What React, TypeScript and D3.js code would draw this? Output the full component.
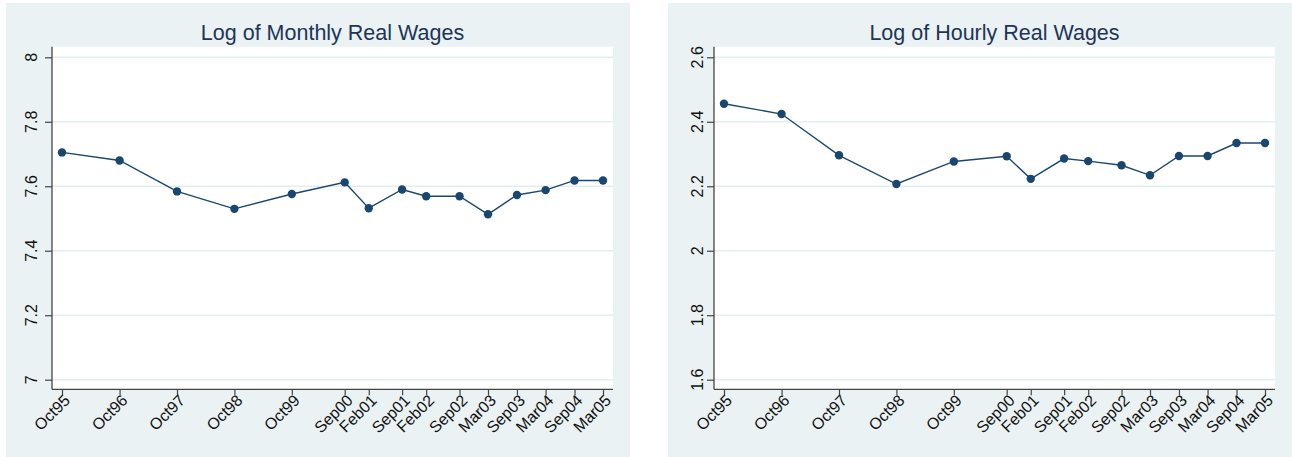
import { useEffect, useRef } from 'react';
import * as d3 from 'd3';

const surveyLabels = ['Oct95', 'Oct96', 'Oct97', 'Oct98', 'Oct99', 'Sep00', 'Feb01', 'Sep01', 'Feb02', 'Sep02', 'Mar03', 'Sep03', 'Mar04', 'Sep04', 'Mar05'];
const monthlyWages = [7.705, 7.68, 7.584, 7.53, 7.576, 7.612, 7.532, 7.59, 7.569, 7.569, 7.513, 7.573, 7.588, 7.618, 7.618];
const hourlyWages = [2.456, 2.424, 2.296, 2.207, 2.277, 2.293, 2.223, 2.286, 2.278, 2.265, 2.234, 2.294, 2.294, 2.334, 2.334];
const monthlyTicks = [7, 7.2, 7.4, 7.6, 7.8, 8];
const hourlyTicks = [1.6, 1.8, 2, 2.2, 2.4, 2.6];

const FONT = '"Liberation Sans", Arial, sans-serif';
const BG = '#eaf2f3';
const NAVY = '#1a476f';

interface PanelSpec {
  title: string;
  values: number[];
  ticks: number[];
  x0: number; // panel left
  labelOffset: number;
}

const panels: PanelSpec[] = [
  { title: 'Log of Monthly Real Wages', values: monthlyWages, ticks: monthlyTicks, x0: 6, labelOffset: 15 },
  { title: 'Log of Hourly Real Wages', values: hourlyWages, ticks: hourlyTicks, x0: 668, labelOffset: 11 },
];

export default function App() {
  const svgRef = useRef<SVGSVGElement>(null);
  const width = 1292;
  const height = 457;

  useEffect(() => {
    if (!svgRef.current) return;
    const svg = d3.select(svgRef.current);
    svg.selectAll('*').remove();

    const parse = d3.timeParse('%b%y');
    const dates = surveyLabels.map(l => parse(l) as Date);

    panels.forEach(p => {
      const panelW = 624;
      const left = p.x0 + 46;
      const right = p.x0 + 607;
      const top = 46.7;
      const bottom = 389.3;

      const g = svg.append('g');

      // panel background
      g.append('rect')
        .attr('x', p.x0).attr('y', 3)
        .attr('width', panelW).attr('height', 454)
        .attr('fill', BG);

      // plot region
      g.append('rect')
        .attr('x', left).attr('y', top)
        .attr('width', right - left).attr('height', bottom - top)
        .attr('fill', '#fff');

      const x = d3.scaleTime()
        .domain(d3.extent(dates) as [Date, Date])
        .range([left + 10, right - 10]);

      const y = d3.scaleLinear()
        .domain([p.ticks[0], p.ticks[p.ticks.length - 1]])
        .range([379.7, 57.3]);

      // grid lines
      g.append('g')
        .selectAll('line')
        .data(p.ticks)
        .enter().append('line')
        .attr('x1', left).attr('x2', right)
        .attr('y1', d => y(d)).attr('y2', d => y(d))
        .attr('stroke', '#e3eef0')
        .attr('stroke-width', 1.5);

      // y axis
      const yAxis = g.append('g')
        .attr('transform', `translate(${left},0)`)
        .call(d3.axisLeft(y).tickValues(p.ticks).tickSize(7).tickFormat(() => ''));
      yAxis.select('.domain').attr('d', `M0,${top}V${bottom}`).attr('stroke', '#444').attr('stroke-width', 1.3);
      yAxis.selectAll('.tick line').attr('stroke', '#444').attr('stroke-width', 1.2);

      g.append('g')
        .selectAll('text')
        .data(p.ticks)
        .enter().append('text')
        .attr('transform', d => `translate(${left - p.labelOffset},${y(d)}) rotate(-90)`)
        .attr('text-anchor', 'middle')
        .style('font-family', FONT)
        .style('font-size', '16px')
        .style('fill', '#111')
        .text(d => d3.format('~g')(d));

      // x axis
      const xAxis = g.append('g')
        .attr('transform', `translate(0,${bottom})`)
        .call(d3.axisBottom(x).tickValues(dates).tickSize(6).tickFormat(() => ''));
      xAxis.select('.domain').attr('d', `M${left},0H${right}`).attr('stroke', '#444').attr('stroke-width', 1.3);
      xAxis.selectAll('.tick line').attr('stroke', '#444').attr('stroke-width', 1.2);

      g.append('g')
        .selectAll('text')
        .data(surveyLabels)
        .enter().append('text')
        .attr('transform', (d, i) => `translate(${x(dates[i]) + 1},${bottom + 4}) rotate(-45)`)
        .attr('text-anchor', 'end')
        .attr('dy', '0.71em')
        .style('font-family', FONT)
        .style('font-size', '16px')
        .style('fill', '#111')
        .text(d => d);

      // title
      g.append('text')
        .attr('x', (left + right) / 2)
        .attr('y', 40)
        .attr('text-anchor', 'middle')
        .style('font-family', FONT)
        .style('font-size', '21.5px')
        .style('fill', '#1e3559')
        .text(p.title);

      // series
      const line = d3.line<number>()
        .x((d, i) => x(dates[i]))
        .y(d => y(d));

      g.append('path')
        .datum(p.values)
        .attr('d', line)
        .attr('fill', 'none')
        .attr('stroke', NAVY)
        .attr('stroke-width', 1.4);

      g.append('g')
        .selectAll('circle')
        .data(p.values)
        .enter().append('circle')
        .attr('cx', (d, i) => x(dates[i]))
        .attr('cy', d => y(d))
        .attr('r', 4.2)
        .attr('fill', NAVY);
    });
  }, []);

  return (
    <svg
      ref={svgRef}
      width={width}
      height={height}
      style={{ position: 'absolute', left: 0, top: 0, background: '#fff' }}
    />
  );
}
